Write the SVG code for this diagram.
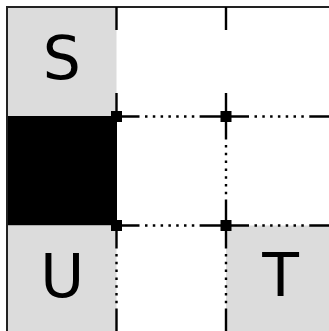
<svg xmlns="http://www.w3.org/2000/svg" width="329" height="331" viewBox="0 0 329 331">
<style>
.bg{fill:#ffffff}
.gray{fill:#dcdcdc}
.wall{fill:#000000}
.lbl{font-family:"DejaVu Sans","Liberation Sans",sans-serif;font-size:60px;fill:#000;text-anchor:middle}
.border{stroke:#222;stroke-width:2;fill:none}
.stub{stroke:#000;stroke-width:2.4;fill:none}
.dot{stroke:#000;stroke-width:2.4;fill:none;stroke-dasharray:2.5 5.3}
.sq{fill:#000}
</style>
<rect class="bg" x="0" y="0" width="329" height="331"/>
<g id="cell-S"><rect class="gray" x="7" y="7" width="109.5" height="109.5"/><text class="lbl" x="61.8" y="79">S</text></g>
<g id="cell-wall"><rect class="wall" x="7" y="116" width="110" height="109.5"/></g>
<g id="cell-U"><rect class="gray" x="7" y="225.5" width="109.5" height="106"/><text class="lbl" x="62.3" y="297">U</text></g>
<g id="cell-T"><rect class="gray" x="226" y="225.5" width="103" height="106"/><text class="lbl" x="280.5" y="296">T</text></g>
<g id="grid">
<path class="border" d="M7,331 V7 H329"/>
<path class="stub" d="M116.5,7 V30 M116.5,93 V116.5 M226,7 V30 M226,93 V116.5"/>
<path class="stub" d="M226,116.5 V139.5 M226,199.5 V225.5"/>
<path class="dot" d="M226,145 V199.5"/>
<path class="stub" d="M116.5,225.5 V248.5 M116.5,309 V331 M226,225.5 V248.5 M226,309 V331"/>
<path class="dot" d="M116.5,254 V309 M226,254 V309"/>
<path class="stub" d="M116.5,116.5 H139.5 M200,116.5 H226 M226,116.5 H249 M309.5,116.5 H329"/>
<path class="dot" d="M145,116.5 H200 M254.5,116.5 H309.5"/>
<path class="stub" d="M116.5,225.5 H139.5 M200,225.5 H226 M226,225.5 H249 M309.5,225.5 H329"/>
<path class="dot" d="M145,225.5 H200 M254.5,225.5 H309.5"/>
</g>
<g id="corners">
<rect class="sq" x="111" y="111" width="11" height="11"/>
<rect class="sq" x="220.5" y="111" width="11" height="11"/>
<rect class="sq" x="111" y="220" width="11" height="11"/>
<rect class="sq" x="220.5" y="220" width="11" height="11"/>
</g>
</svg>
